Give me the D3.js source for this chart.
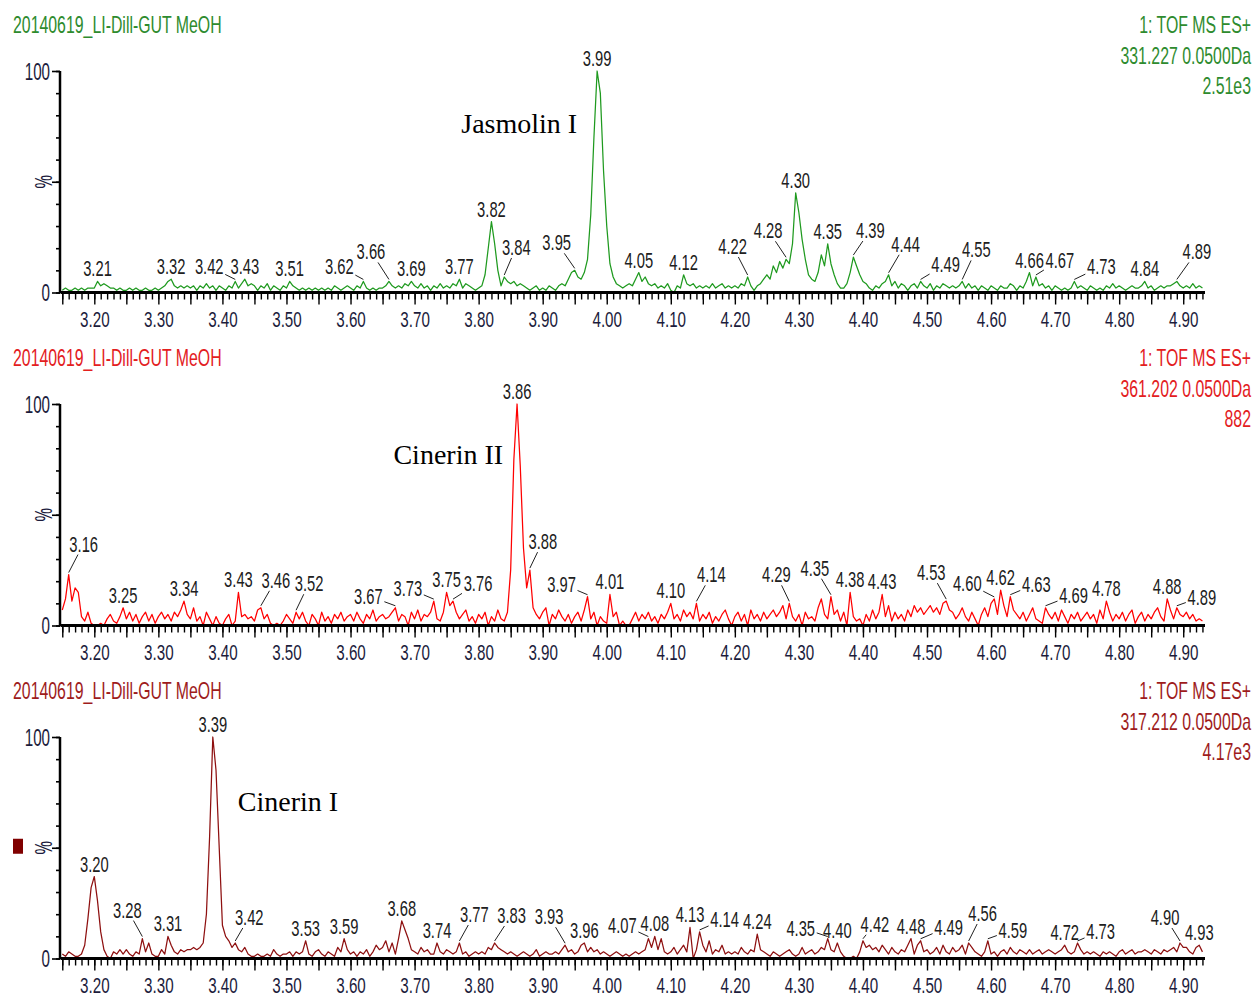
<!DOCTYPE html>
<html><head><meta charset="utf-8">
<script src="https://cdn.jsdelivr.net/npm/d3@7"></script>
<style>body{margin:0;background:#fff}svg{display:block}</style>
</head><body>
<svg id="c" width="1257" height="998"></svg>
<script>
// ---- data: retention time grid (min) and relative intensity (%) ----
const rtStart = 3.150, rtStep = 0.005;
const xTickLabels = ["3.20","3.30","3.40","3.50","3.60","3.70","3.80","3.90","4.00","4.10","4.20","4.30","4.40","4.50","4.60","4.70","4.80","4.90"];
const yTickLabels = ["0","100"];
const sampleName = "20140619_LI-Dill-GUT MeOH";

// m/z 331.227 (Jasmolin I)
const jasmolinI = [
1,2,1,1,2,1,2,1,2,2,  2,5,3,4,3,2,2,1,2,1,  1,2,1,2,1,1,2,1,1,2,  1,2,3,5,6,3,2,3,2,3,
2,3,1,3,2,4,2,3,1,3,  2,1,3,2,5,2,4,6,3,4,  3,1,3,2,4,1,3,2,1,3,  2,5,3,2,1,2,1,2,1,2,
1,2,1,2,1,3,2,1,2,3,  2,1,3,2,5,2,1,2,1,2,  2,3,5,3,2,3,2,4,3,5,  3,2,4,2,3,1,3,2,4,2,
3,2,4,3,6,2,4,3,2,1,  2,3,8,20,32,22,10,3,7,5,  4,5,3,4,3,2,1,2,3,1,  2,1,3,2,1,3,4,3,6,9,
10,7,6,9,15,35,70,100,90,55,  30,13,7,4,3,2,3,4,3,6,  9,5,7,4,3,4,2,3,2,4,  1,0,3,2,8,4,3,4,2,3,
2,3,2,4,2,3,4,2,3,2,  3,2,4,3,7,3,1,3,4,6,  8,6,12,9,14,11,15,13,22,45,  36,24,15,8,6,5,9,17,12,22,
13,8,4,2,2,4,9,16,12,8,  5,4,2,1,3,2,4,5,8,3,  5,2,4,3,1,3,4,2,5,3,  2,4,1,3,2,4,3,2,3,2,
3,5,2,4,2,3,1,3,2,1,  3,2,1,3,2,2,4,3,1,3,  2,5,9,3,7,3,4,2,3,1,  3,2,1,2,1,2,5,2,3,2,
1,3,2,1,2,1,3,2,4,2,  3,2,1,2,3,2,2,3,5,2,  3,1,2,3,2,3,3,4,5,3,  2,3,2,4,2,3,2];

// m/z 361.202 (Cinerin II)
const cinerinII = [
7,12,23,11,17,15,4,2,6,1,  0,0,1,0,3,5,2,1,4,8,  3,6,2,5,1,4,6,2,5,1,  4,6,3,5,2,6,4,7,11,5,
3,8,2,4,0,6,3,0,4,1,  0,3,5,0,2,15,4,5,3,4,  2,7,8,3,5,1,0,1,0,2,  5,3,1,6,3,6,2,0,5,3,
0,6,2,4,1,5,3,6,2,4,  5,2,6,3,1,5,3,7,2,4,  5,3,4,6,8,2,5,4,0,6,  3,7,2,5,4,6,11,3,2,6,
15,9,11,6,3,5,7,2,4,1,  5,3,6,0,4,2,7,3,2,6,  25,75,100,72,35,17,25,8,5,3,  6,8,0,5,3,7,4,2,5,1,
4,6,2,7,13,3,6,0,4,2,  1,14,4,6,0,2,0,0,3,6,  2,5,3,6,2,4,1,5,3,6,  10,3,5,2,7,4,6,3,10,2,
5,3,6,1,4,2,5,7,3,0,  4,6,2,5,0,7,3,5,2,6,  3,5,7,4,6,9,3,10,4,2,  5,0,6,3,4,2,8,12,5,3,
13,5,7,2,6,0,15,4,2,3,  0,5,2,7,3,6,14,4,9,2,  6,3,5,2,7,4,9,6,8,5,  7,9,6,8,5,10,11,7,6,3,
5,8,4,2,6,3,0,5,8,4,  10,12,5,16,9,4,13,7,5,3,  6,2,5,8,3,2,1,8,5,3,  6,2,7,4,1,5,3,6,2,4,
6,3,5,1,7,3,11,6,2,5,  3,6,2,5,7,1,4,6,2,5,  3,6,8,4,2,12,7,3,8,5,  4,6,3,5,2,3,2];

// m/z 317.212 (Cinerin I)
const cinerinI = [
2,1,3,2,1,1,2,6,18,32,  37,26,12,4,1,0,3,2,4,2,  4,2,1,3,2,9,3,7,2,1,  1,4,2,10,6,3,2,4,3,4,
4,5,4,5,7,20,55,100,85,50,  15,10,8,5,7,4,3,5,2,1,  1,2,1,1,2,1,4,2,1,2,  2,3,1,3,2,3,8,2,1,3,
4,2,1,3,2,1,5,3,9,4,  2,3,1,3,2,4,1,3,6,4,  5,8,3,7,2,9,17,13,9,4,  3,2,5,3,4,2,2,7,3,2,
4,3,2,3,7,2,3,1,2,3,  2,3,2,5,4,7,5,4,3,2,  3,2,1,2,3,2,1,2,4,1,  2,3,2,2,3,2,4,6,3,4,
2,3,6,7,3,5,3,4,2,3,  2,1,2,3,2,1,2,1,2,3,  2,3,4,9,5,10,4,9,3,2,  3,5,2,4,6,3,14,0,4,12,
6,3,8,2,4,3,6,2,3,2,  3,2,5,3,2,4,3,11,4,3,  2,1,3,2,1,2,3,4,2,1,  2,5,2,3,4,2,3,5,4,9,
4,3,7,3,1,0,0,1,0,3,  8,5,6,4,5,3,6,4,2,5,  3,2,4,3,6,9,2,6,8,3,  4,2,3,5,2,6,3,2,5,3,
4,6,2,7,5,3,2,1,3,8,  2,3,1,3,4,2,5,3,2,4,  3,2,4,2,3,4,2,3,4,3,  2,3,4,6,3,2,3,7,4,2,
3,2,3,2,1,3,2,3,2,1,  3,4,2,3,4,2,3,3,4,3,  2,4,3,2,4,3,4,5,3,7,  5,5,3,2,5,6,3];

// peak labels: [retention time of marked point, label text]
const jasmolinILabels = [[3.205,"3.21"],[3.320,"3.32"],[3.420,"3.42"],[3.435,"3.43"],[3.505,"3.51"],[3.620,"3.62"],[3.660,"3.66"],[3.695,"3.69"],[3.770,"3.77"],[3.820,"3.82"],[3.840,"3.84"],[3.950,"3.95"],[3.985,"3.99"],[4.050,"4.05"],[4.120,"4.12"],[4.220,"4.22"],[4.280,"4.28"],[4.295,"4.30"],[4.345,"4.35"],[4.385,"4.39"],[4.440,"4.44"],[4.490,"4.49"],[4.555,"4.55"],[4.660,"4.66"],[4.670,"4.67"],[4.730,"4.73"],[4.840,"4.84"],[4.890,"4.89"]];
const cinerinIILabels = [[3.160,"3.16"],[3.245,"3.25"],[3.340,"3.34"],[3.425,"3.43"],[3.460,"3.46"],[3.515,"3.52"],[3.670,"3.67"],[3.730,"3.73"],[3.750,"3.75"],[3.760,"3.76"],[3.860,"3.86"],[3.880,"3.88"],[3.970,"3.97"],[4.005,"4.01"],[4.100,"4.10"],[4.140,"4.14"],[4.285,"4.29"],[4.350,"4.35"],[4.380,"4.38"],[4.430,"4.43"],[4.530,"4.53"],[4.605,"4.60"],[4.615,"4.62"],[4.630,"4.63"],[4.685,"4.69"],[4.780,"4.78"],[4.875,"4.88"],[4.890,"4.89"]];
const cinerinILabels = [[3.200,"3.20"],[3.275,"3.28"],[3.315,"3.31"],[3.385,"3.39"],[3.420,"3.42"],[3.530,"3.53"],[3.590,"3.59"],[3.680,"3.68"],[3.735,"3.74"],[3.770,"3.77"],[3.825,"3.83"],[3.935,"3.93"],[3.965,"3.96"],[4.065,"4.07"],[4.075,"4.08"],[4.130,"4.13"],[4.145,"4.14"],[4.235,"4.24"],[4.345,"4.35"],[4.360,"4.40"],[4.400,"4.42"],[4.475,"4.48"],[4.490,"4.49"],[4.565,"4.56"],[4.595,"4.59"],[4.715,"4.72"],[4.735,"4.73"],[4.895,"4.90"],[4.925,"4.93"]];

// ---- presentation: label nudges in px [dx, dy] (labels that carry leader lines) ----
const nudge1 = {"3.42":[-26,-2],"3.62":[-24,-2],"3.66":[-18,-17],"3.84":[12,-17],"3.95":[-18,-15],"4.22":[-15,-18],"4.28":[-18,-16],"4.39":[17,-14],"4.44":[17,-18],"4.49":[25,-4],"4.55":[14,-19],"4.67":[24,-4],"4.73":[27,-2],"4.89":[20,-17]};
const nudge2 = {"3.16":[15,-18],"3.46":[15,-15],"3.52":[13,-16],"3.67":[-27,1],"3.73":[-26,0],"3.76":[25,-5],"3.88":[13,-16],"3.97":[-26,0],"4.14":[15,-16],"4.29":[-13,-16],"4.35":[-16,-16],"4.53":[-15,-16],"4.60":[-27,-3],"4.63":[26,0],"4.69":[28,0],"4.89":[25,2]};
const nudge3 = {"3.28":[-15,-16],"3.42":[14,-13],"3.77":[15,-16],"3.83":[17,-15],"3.93":[-16,-16],"4.07":[-26,-1],"4.14":[25,0],"4.35":[-27,2],"4.42":[12,-4],"4.49":[28,-1],"4.56":[14,-17],"4.59":[25,2],"4.73":[23,1],"4.90":[-15,-13]};

const panels = [
  {values: jasmolinI, labels: jasmolinILabels, nudge: nudge1, line:"#1f9a1f", text:"#2e8b2e",
   head:["1: TOF MS ES+","331.227 0.0500Da","2.51e3"], name:"Jasmolin I", nameAnchor:"end", nameDx:-20, nameLevel:72, marker:false},
  {values: cinerinII, labels: cinerinIILabels, nudge: nudge2, line:"#ff0000", text:"#e3201e",
   head:["1: TOF MS ES+","361.202 0.0500Da","882"], name:"Cinerin II", nameAnchor:"end", nameDx:-14, nameLevel:73, marker:false},
  {values: cinerinI, labels: cinerinILabels, nudge: nudge3, line:"#8e1010", text:"#9e1c1c",
   head:["1: TOF MS ES+","317.212 0.0500Da","4.17e3"], name:"Cinerin I", nameAnchor:"start", nameDx:25, nameLevel:66.5, marker:true}
];

const svg = d3.select("#c");
const SANS = "'Liberation Sans', Arial, sans-serif";
const x = d3.scaleLinear().domain([3.148, 4.934]).range([61, 1205]);
const rtAt = i => rtStart + i*rtStep;
const tickScale = 0.66, peakScale = 0.67, headScale = 0.69;
const axisTextColor = "#1c1c3c";

panels.forEach((p, k) => {
  const oy = k*333;
  const y = d3.scaleLinear().domain([0,100]).range([292.5+oy, 71+oy]);
  const g = svg.append("g");
  const y0 = y(0);

  // headers
  g.append("text").attr("transform",`translate(13,${33+oy}) scale(${headScale},1)`)
    .attr("font-family",SANS).attr("font-size",23).attr("fill",p.text).text(sampleName);
  p.head.forEach((h,j)=>{
    g.append("text").attr("transform",`translate(1251,${33+oy+j*30.5}) scale(${headScale},1)`)
      .attr("text-anchor","end").attr("font-family",SANS).attr("font-size",23).attr("fill",p.text).text(h);
  });

  // trace
  const line = d3.line().x((d,i)=>x(rtAt(i))).y(d=>y(d));
  g.append("path").datum(p.values).attr("d",line).attr("fill","none")
    .attr("stroke",p.line).attr("stroke-width",1.25).attr("stroke-linejoin","round");

  // x axis
  const minorT = d3.range(315, 494).map(v=>v/100);
  const majorT = d3.range(63, 99).map(v=>v/20);
  const ax1 = g.append("g").attr("transform",`translate(0,${y0})`)
    .call(d3.axisBottom(x).tickValues(minorT).tickSize(7).tickFormat(""));
  const ax2 = g.append("g").attr("transform",`translate(0,${y0})`)
    .call(d3.axisBottom(x).tickValues(majorT).tickSize(12).tickFormat(""));
  const ax3 = g.append("g").attr("transform",`translate(0,${y0})`)
    .call(d3.axisBottom(x).tickValues(xTickLabels.map(Number)).tickSize(0).tickFormat((d,i)=>xTickLabels[i]));
  [ax1,ax2,ax3].forEach(a=>{ a.select(".domain").remove();
    a.selectAll("line").attr("stroke","#000").attr("stroke-width",1.4); });
  ax3.selectAll("text").attr("y",19).attr("dy","0.71em").attr("transform",`scale(0.69,1)`)
    .attr("font-family",SANS).attr("font-size",22).attr("fill",axisTextColor);
  g.append("line").attr("x1",x(3.148)).attr("x2",x(4.934)).attr("y1",y0).attr("y2",y0)
    .attr("stroke","#000").attr("stroke-width",3);

  // y axis
  const ay1 = g.append("g").attr("transform","translate(60,0)")
    .call(d3.axisLeft(y).tickValues(d3.range(0,101,10)).tickSize(4).tickFormat(""));
  const ay2 = g.append("g").attr("transform","translate(60,0)")
    .call(d3.axisLeft(y).tickValues([0,50,100]).tickSize(8).tickFormat(""));
  const ay3 = g.append("g").attr("transform","translate(60,0)")
    .call(d3.axisLeft(y).tickValues(yTickLabels.map(Number)).tickSize(0).tickFormat((d,i)=>yTickLabels[i]));
  [ay1,ay2,ay3].forEach(a=>{ a.select(".domain").remove();
    a.selectAll("line").attr("stroke","#000").attr("stroke-width",1.6); });
  ay3.selectAll("text").attr("x",0).attr("dy","0.36em")
    .attr("transform",`translate(-10,0) scale(${tickScale},1)`)
    .attr("font-family",SANS).attr("font-size",23).attr("fill",axisTextColor);
  g.append("line").attr("x1",60).attr("x2",60).attr("y1",y(0)+1).attr("y2",y(100))
    .attr("stroke","#000").attr("stroke-width",2.5);
  g.append("text").attr("transform",`translate(52,${y(50)}) rotate(-90) scale(${tickScale},1)`)
    .attr("text-anchor","middle").attr("font-family",SANS).attr("font-size",23)
    .attr("fill",axisTextColor).text("%");
  if (p.marker) g.append("rect").attr("x",13).attr("y",y(50)-9).attr("width",10).attr("height",15).attr("fill","#800000");

  // peak labels
  p.labels.forEach(([t,txt])=>{
    const i = Math.round((t-rtStart)/rtStep);
    const px = x(rtAt(i)), py = y(p.values[i]);
    const [dx,dy] = p.nudge[txt] || [0,0];
    const cx = px+dx, base = py-5+dy;
    g.append("text").attr("transform",`translate(${cx},${base}) scale(${peakScale},1)`)
      .attr("text-anchor","middle").attr("font-family",SANS).attr("font-size",22)
      .attr("fill","#202020").text(txt);
    if (dx||dy) {
      const cy = base-8, tx = px, ty = py-2;
      const vx = tx-cx, vy = ty-cy;
      const s = Math.min(vx? 16/Math.abs(vx):Infinity, vy? 11/Math.abs(vy):Infinity);
      if (s < 1) g.append("line").attr("x1",cx+vx*s).attr("y1",cy+vy*s).attr("x2",tx).attr("y2",ty)
        .attr("stroke","#202020").attr("stroke-width",1);
    }
  });

  // compound name
  const iMax = p.values.indexOf(d3.max(p.values));
  g.append("text").attr("x",x(rtAt(iMax))+p.nameDx).attr("y",y(p.nameLevel))
    .attr("text-anchor",p.nameAnchor).attr("font-family","'Liberation Serif','Times New Roman',serif")
    .attr("font-size",28).attr("fill","#000").text(p.name);
});
</script>
</body></html>
